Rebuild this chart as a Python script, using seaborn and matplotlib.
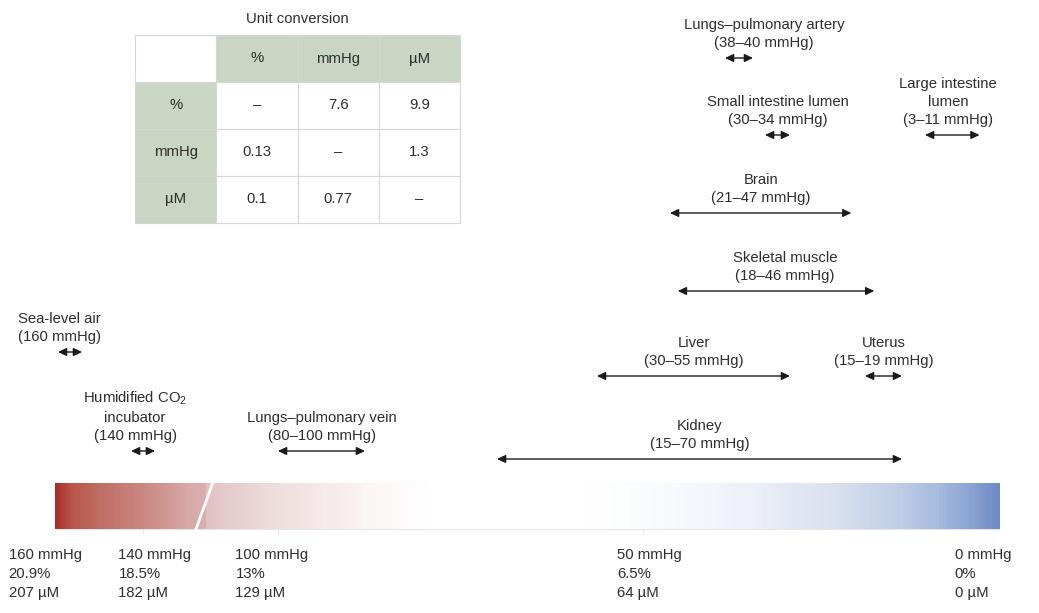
import numpy as np
import matplotlib.pyplot as plt
from matplotlib.colors import LinearSegmentedColormap
from matplotlib.transforms import offset_copy
import seaborn as sns

# Oxygen ranges of tissues and environments (mmHg)
tissues = ['Lungs–pulmonary artery', 'Small intestine lumen', 'Large intestine\nlumen',
           'Brain', 'Skeletal muscle', 'Liver', 'Uterus', 'Kidney',
           'Sea-level air', 'Humidified CO$_\\mathregular{2}$\nincubator', 'Lungs–pulmonary vein']
po2_low = [38, 30, 3, 21, 18, 30, 15, 15, 160, 140, 80]
po2_high = [40, 34, 11, 47, 46, 55, 19, 70, 160, 140, 100]

# Scale labels under the bar
tick_mmhg = [160, 140, 100, 50, 0]
tick_pct = ['20.9%', '18.5%', '13%', '6.5%', '0%']
tick_um = ['207 µM', '182 µM', '129 µM', '64 µM', '0 µM']

# Unit conversion table
units = ['%', 'mmHg', 'µM']
conversion = [['–', '7.6', '9.9'],
              ['0.13', '–', '1.3'],
              ['0.1', '0.77', '–']]

# Layout: arrow rows (pixels from top), label nudges, and the illustration's
# hand-drawn (non-linear) mmHg axis as knots mmHg -> pixel
arrow_rows = [58, 135, 135, 213, 291, 376, 376, 459, 352, 451, 451]
label_dx = [25, 0, -4, 0, 9, 0, 0, 0, -10, -8, 0]
tick_dx = [-25, 12, -6, 7, -17]
knot_mmhg = np.array([-5.2, 0, 11, 15, 19, 30, 34, 38, 40, 47, 55, 70, 80, 100, 140, 160, 165, 180])
knot_px = np.array([1039, 1000, 925, 902, 865, 790, 765, 753, 725, 670, 597, 497, 365, 278, 143, 70, 55, 0])

# bar colours along the mmHg axis
bar_colors = [(0, '#6f8bc4'), (4, '#8aa3d1'), (9.3, '#a8bce0'), (17, '#c6d3e8'),
              (24, '#dae2ef'), (33, '#e7ebf5'), (43, '#f3f6fb'), (52, '#fcfdfe'),
              (58, '#ffffff'), (75, '#ffffff'), (82, '#f9f0f0'), (100, '#efdede'),
              (117, '#e4c8c8'), (121.2, '#e0c0c0'), (121.5, '#d9afad'), (126, '#d7aaa8'),
              (138, '#cd8c87'), (151.8, '#be6e64'), (160, '#b9554b'), (165, '#a82d26')]

sns.set_theme(style='white')
plt.rcParams['font.family'] = ['Liberation Sans', 'DejaVu Sans']
plt.rcParams['mathtext.fontset'] = 'custom'
plt.rcParams['mathtext.rm'] = 'Liberation Sans'
TXT = '#2e2e2e'
FS = 10.7


def fwd(v):
    # mmHg -> pixel from the left
    return np.interp(v, knot_mmhg, knot_px)


def inv(x):
    # pixel from the left -> mmHg
    return np.interp(x, knot_px[::-1], knot_mmhg[::-1])


fig = plt.figure(figsize=(10.39, 6.13), dpi=100)
ax = fig.add_axes([0, 0, 1, 1])
# increasing transform (negated pixels), then invert the axis so high mmHg sits left
ax.set_xscale('function', functions=(lambda v: -fwd(v), lambda t: inv(-np.asarray(t))))
ax.set_xlim(180, -5.2)
ax.set_ylim(613, 0)
ax.axis('off')

# gradient bar
vmax = bar_colors[-1][0]
cmap = LinearSegmentedColormap.from_list('po2', [(v / vmax, c) for v, c in bar_colors])
edges = np.linspace(0, vmax, 826)
mids = (edges[:-1] + edges[1:]) / 2
ax.hlines([483, 529], 0, vmax, color='#e6e6e6', lw=0.8, zorder=1)
ax.pcolormesh(edges, [483, 529], mids[None, :], cmap=cmap, vmin=0, vmax=vmax,
              shading='flat', zorder=2)
ax.plot([124.5, 118.5], [531, 475], color='white', lw=2.0, zorder=3)
ax.vlines(tick_mmhg[1:4], 529, 534, color='#e8e8e8', lw=0.8)

# scale labels
for v, pct, um, dx in zip(tick_mmhg, tick_pct, tick_um, tick_dx):
    x = inv(fwd(v) + dx)
    ax.text(x, 548, f'{v} mmHg\n{pct}\n{um}', ha='center', va='top',
            multialignment='left', linespacing=1.45, fontsize=FS, color=TXT)

# range arrows with labels
arrow_kw = dict(arrowstyle='<|-|>,head_length=0.42,head_width=0.2', lw=1.0,
                color='#1a1a1a', shrinkA=0, shrinkB=0)
for name, lo, hi, row, dx in zip(tissues, po2_low, po2_high, arrow_rows, label_dx):
    if lo == hi:
        left = offset_copy(ax.transData, fig=fig, x=-12, y=0, units='dots')
        right = offset_copy(ax.transData, fig=fig, x=12, y=0, units='dots')
        ax.annotate('', xy=(hi, row), xycoords=left, xytext=(lo, row),
                    textcoords=right, arrowprops=arrow_kw)
        label = f'{name}\n({lo} mmHg)'
    else:
        ax.annotate('', xy=(hi, row), xytext=(lo, row), arrowprops=arrow_kw)
        label = f'{name}\n({lo}–{hi} mmHg)'
    mid = inv((fwd(lo) + fwd(hi)) / 2 + dx)
    ax.text(mid, row - 8, label, ha='center', va='bottom',
            multialignment='left' if name == 'Sea-level air' else 'center',
            linespacing=1.35, fontsize=FS, color=TXT)

# unit conversion table
green = '#c9d6c3'
cells = [[''] + units] + [[u] + r for u, r in zip(units, conversion)]
colours = [['white'] + [green] * 3] + [[green] + ['white'] * 3 for _ in units]
W, H = 1039, 613
tab = ax.table(cellText=cells, cellColours=colours, cellLoc='center',
               bbox=[135 / W, 1 - 223 / H, 325 / W, 188 / H])
tab.auto_set_font_size(False)
for cell in tab.get_celld().values():
    cell.set_edgecolor('#d6d6d6')
    cell.set_linewidth(0.8)
    cell.get_text().set_fontsize(FS)
    cell.get_text().set_color(TXT)
fig.text(297.5 / W, 1 - 19 / H, 'Unit conversion', ha='center', va='center',
         fontsize=FS, color=TXT)

fig.savefig('out.png', dpi=100)
